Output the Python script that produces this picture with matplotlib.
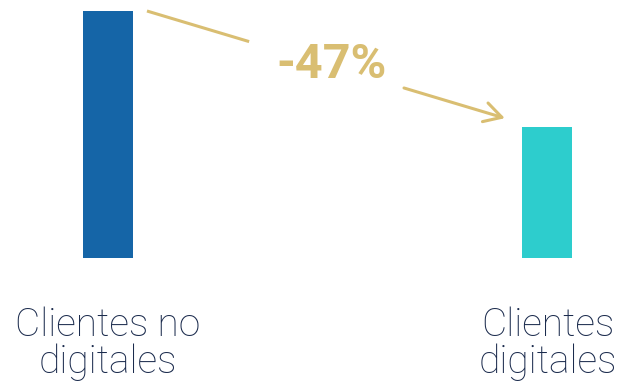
import matplotlib
matplotlib.use("Agg")
import matplotlib.pyplot as plt

categories = ["Clientes no\ndigitales", "Clientes\ndigitales"]
values = [100, 53]
change_label = "-47%"

bar_colors = ["#1565a7", "#2dcdcd"]
gold = "#d9be72"
navy = "#1b2b4d"

fig = plt.figure(figsize=(6.21, 3.84), dpi=100)
ax = fig.add_axes([0, (384 - 258) / 384, 1, 247 / 384])

x = list(range(len(categories)))
ax.bar(x, values, width=50 / 439.5, color=bar_colors)

ax.set_xlim(-108 / 439.5, (621 - 108) / 439.5)
ax.set_ylim(0, 100)
ax.set_xticks(x)
ax.set_xticklabels(categories, fontsize=28, family=["Roboto", "DejaVu Sans"],
                   fontweight="light", color=navy, linespacing=0.97)
ax.tick_params(axis="x", length=0, pad=35)
ax.set_yticks([])
for s in ax.spines.values():
    s.set_visible(False)
ax.patch.set_alpha(0)

# Trend arrow between the bar tops, with a gap for the label
x0, y0 = 0.0887, values[0]
x1, y1 = 0.903, values[1] + 3.6
slope = (y1 - y0) / (x1 - x0)
gap_a, gap_b = 0.3211, 0.6735
ax.plot([x0, gap_a], [y0, y0 + slope * (gap_a - x0)], color=gold, lw=2.2,
        solid_capstyle="butt", clip_on=False)
ax.annotate("", xy=(x1, y1), xytext=(gap_b, y0 + slope * (gap_b - x0)),
            arrowprops=dict(arrowstyle="->,head_length=12.5,head_width=7",
                            mutation_scale=1, color=gold, lw=2.2,
                            shrinkA=0, shrinkB=0),
            annotation_clip=False)

mid = (gap_a + gap_b) / 2 + 0.012
ax.text(mid, y0 + slope * ((gap_a + gap_b) / 2 - x0), change_label,
        ha="center", va="center", fontsize=35, fontweight="bold",
        family=["Roboto", "DejaVu Sans"], color=gold)

fig.savefig("out.png", dpi=100)
